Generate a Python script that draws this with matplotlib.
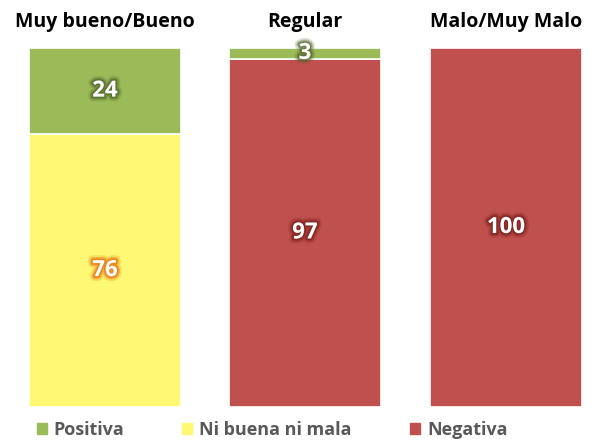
import matplotlib
matplotlib.use("Agg")
import matplotlib.pyplot as plt
import matplotlib.patheffects as pe
from matplotlib.patches import Patch

# data
categories = ["Muy bueno/Bueno", "Regular", "Malo/Muy Malo"]
negativa = [0, 97, 100]
ni_buena = [76, 0, 0]
positiva = [24, 3, 0]

series = [
    ("Negativa", negativa, "#c0504d", "#7a1f1d"),
    ("Ni buena ni mala", ni_buena, "#fff872", "#e46c0a"),
    ("Positiva", positiva, "#9bbb59", "#4f6228"),
]

plt.rcParams['font.family'] = ['Open Sans', 'DejaVu Sans']

W, H = 595, 440
fig = plt.figure(figsize=(W / 100, H / 100), dpi=100)

lefts = [29, 229, 430]
bar_w = 152
top, bottom = 48, 407

for i, cat in enumerate(categories):
    ax = fig.add_axes([lefts[i] / W, (H - bottom) / H, bar_w / W, (bottom - top) / H])
    base = 0
    for name, vals, color, glow in series:
        v = vals[i]
        if v > 0:
            ax.bar(0, v, bottom=base, width=1.0, color=color, edgecolor="white", linewidth=1.2)
            ax.text(0, base + v / 2, str(v), ha="center", va="center", color="white",
                    fontsize=16, fontweight="bold",
                    path_effects=[pe.Stroke(linewidth=7, foreground=glow, alpha=0.2),
                                  pe.Stroke(linewidth=4.5, foreground=glow, alpha=0.35),
                                  pe.Stroke(linewidth=2.5, foreground=glow, alpha=0.6),
                                  pe.Normal()])
        base += v
    ax.set_xlim(-0.5, 0.5)
    ax.set_ylim(0, 100)
    ax.axis("off")
    fig.text((lefts[i] + bar_w / 2) / W, 1 - 22 / H, cat, ha="center", va="center",
             fontsize=14, fontweight="bold", color="black")

handles = [Patch(color=s[2]) for s in [series[2], series[1], series[0]]]
labels = [s[0] for s in [series[2], series[1], series[0]]]
leg = fig.legend(handles, labels, loc="center", bbox_to_anchor=(272 / W, 1 - 430 / H), ncol=3,
                 frameon=False, handlelength=0.55, handleheight=0.55, handletextpad=0.4,
                 columnspacing=3.2, prop={"weight": "bold", "size": 13})
for t in leg.get_texts():
    t.set_color("#595959")

fig.savefig("out.png", dpi=100)
